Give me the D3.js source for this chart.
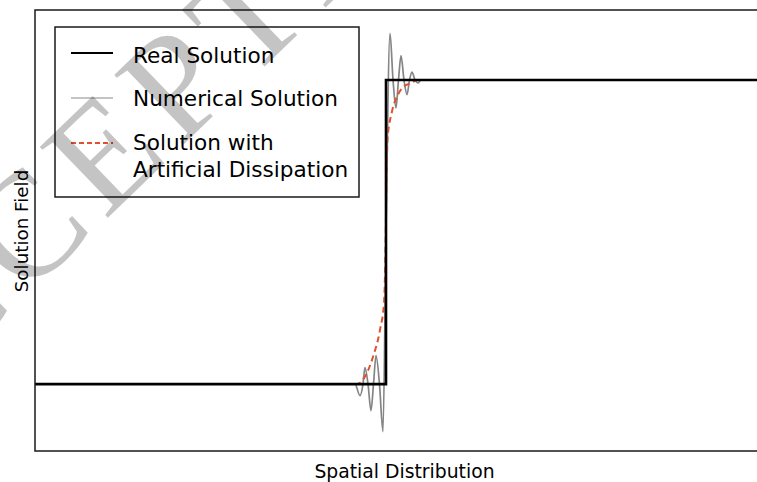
<!DOCTYPE html>
<html>
<head>
<meta charset="utf-8">
<script src="https://d3js.org/d3.v7.min.js"></script>
<style>
  html, body { margin: 0; padding: 0; background: #fff; }
  svg { display: block; font-family: "DejaVu Sans", Verdana, sans-serif; }
</style>
</head>
<body>
<svg id="chart" width="757" height="482"></svg>
<script>
// Exact step profile: low state left of the discontinuity, high state right of it
const realX = [0, 50, 50, 110];
const realY = [0, 0, 1, 1];

// Oscillating (Gibbs-type) numerical profile around the jump
const numX = [0, 45.58, 46.30, 46.72, 47.00, 47.44, 47.86, 48.22, 48.58, 49.07, 49.57,
              50.00, 50.57, 51.00, 51.42, 51.78, 52.14, 52.56, 52.99, 53.35, 53.70,
              54.13, 54.56, 54.99, 110];
const numY = [0, 0, -0.038, 0, 0.054, 0, -0.087, 0, 0.094, 0, -0.156,
              0.50, 1.153, 1.0, 0.908, 1.0, 1.08, 1.0, 0.952, 1.0, 1.026,
              1.0, 0.99, 1.0, 1];

// Smeared profile obtained with artificial dissipation
const dissX = [0, 45.87, 46.72, 48.15, 49.15, 49.72, 49.93, 50.07, 50.21, 50.85,
               51.71, 52.56, 53.42, 54.56, 110];
const dissY = [0, 0, 0.015, 0.09, 0.179, 0.268, 0.442, 0.673, 0.804, 0.896,
               0.952, 0.979, 0.988, 1.0, 1];

const legendLabels = [["Real Solution"], ["Numerical Solution"], ["Solution with", "Artificial Dissipation"]];
const xLabel = "Spatial Distribution";
const yLabel = "Solution Field";
const stampText = "ACCEPTED MANUSCRIPT";

const svg = d3.select("#chart");
const W = 757, H = 482;
const plot = { left: 35, top: 10, bottom: 451 };

const x = d3.scaleLinear().domain([0, 110]).range([plot.left, plot.left + 110 * 7.02]);
const y = d3.scaleLinear().domain([-0.22, 1.23]).range([plot.bottom, plot.top]);

const zip = (xs, ys) => xs.map((v, i) => [v, ys[i]]);

svg.append("clipPath").attr("id", "plotClip")
  .append("rect")
  .attr("x", plot.left).attr("y", plot.top)
  .attr("width", W - plot.left).attr("height", plot.bottom - plot.top);

const g = svg.append("g").attr("clip-path", "url(#plotClip)");

const smooth = d3.line().x(d => x(d[0])).y(d => y(d[1])).curve(d3.curveMonotoneX);
const straight = d3.line().x(d => x(d[0])).y(d => y(d[1]));

g.append("path").datum(zip(numX, numY))
  .attr("d", smooth).attr("fill", "none")
  .attr("stroke", "#858585").attr("stroke-width", 1.7);

g.append("path").datum(zip(dissX, dissY))
  .attr("d", smooth)
  .attr("fill", "none")
  .attr("stroke", "#e0512c").attr("stroke-width", 2)
  .attr("stroke-dasharray", "6,4");

g.append("path").datum(zip(realX, realY))
  .attr("d", straight).attr("fill", "none")
  .attr("stroke", "#000").attr("stroke-width", 2.6);

// Plot frame: left, top and bottom edges (right edge lies outside the view)
const frame = svg.append("g").attr("stroke", "#1a1a1a").attr("stroke-width", 1.5).attr("fill", "none");
frame.append("path").attr("d", `M${W + 5},${plot.top}H${plot.left}V${plot.bottom}H${W + 5}`);

// Legend
const lg = svg.append("g");
lg.append("rect").attr("x", 55).attr("y", 27).attr("width", 304).attr("height", 170)
  .attr("fill", "#fff").attr("stroke", "#1a1a1a").attr("stroke-width", 1.5);
const sampleY = [53, 98, 143];
const sampleStyle = [
  { stroke: "#000", width: 2, dash: null },
  { stroke: "#8a8a8a", width: 1.2, dash: null },
  { stroke: "#e0512c", width: 2, dash: "5,3" }
];
sampleY.forEach((sy, i) => {
  lg.append("line").attr("x1", 71).attr("x2", 113).attr("y1", sy).attr("y2", sy)
    .attr("stroke", sampleStyle[i].stroke).attr("stroke-width", sampleStyle[i].width)
    .attr("stroke-dasharray", sampleStyle[i].dash);
});
const textBase = [63, 106, 150];
legendLabels.forEach((lines, i) => {
  const t = lg.append("text").attr("x", 133).attr("y", textBase[i])
    .attr("font-size", 21.6).attr("fill", "#000");
  lines.forEach((s, j) => {
    t.append("tspan").attr("x", 133).attr("dy", j === 0 ? 0 : 27).text(s);
  });
});

// Axis titles
svg.append("text").attr("x", 404.5).attr("y", 478).attr("text-anchor", "middle")
  .attr("font-size", 18.8).attr("fill", "#000").text(xLabel);
svg.append("text").attr("transform", "translate(28,231) rotate(-90)")
  .attr("text-anchor", "middle").attr("font-size", 18.3).attr("fill", "#000").text(yLabel);

// Diagonal stamp across the upper-left of the figure
svg.append("text")
  .attr("transform", "translate(-143,460) rotate(-44)")
  .attr("font-family", "'Liberation Serif', 'Times New Roman', serif")
  .attr("font-size", 150)
  .attr("letter-spacing", 12)
  .attr("fill", "#000").attr("fill-opacity", 0.23)
  .text(stampText);
</script>
</body>
</html>
